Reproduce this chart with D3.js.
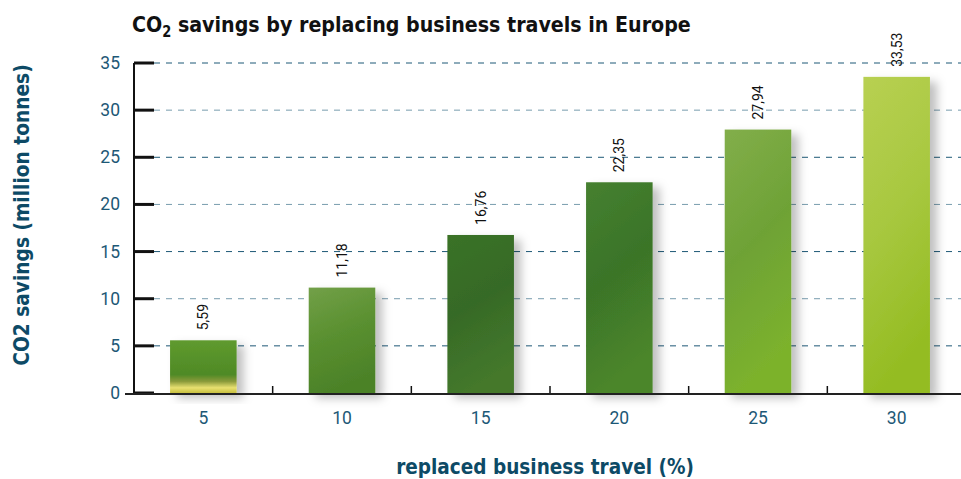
<!DOCTYPE html>
<html lang="en">
<head>
<meta charset="UTF-8">
<title>CO2 savings by replacing business travels in Europe</title>
<script src="https://d3js.org/d3.v7.min.js"></script>
<style>
    body { margin: 0; padding: 0; background: #fff; }
    svg { display: block; }
    .title { font-family: "DejaVu Sans Condensed", "DejaVu Sans", sans-serif; font-weight: bold; font-size: 22px; fill: #111; }
    .axis-title { font-family: "DejaVu Sans Condensed", "DejaVu Sans", sans-serif; font-weight: bold; font-size: 22px; fill: #0d4a66; }
    .tick-label { font-family: Roboto, "Liberation Sans", sans-serif; font-size: 17.5px; fill: #1d5876; }
    .value-label { font-family: Roboto, "Liberation Sans", sans-serif; font-size: 14px; fill: #111; }
</style>
</head>
<body>
<svg width="961" height="479"></svg>
<script>
    // data
    const categories = ["5", "10", "15", "20", "25", "30"];
    const savings = [5.59, 11.18, 16.76, 22.35, 27.94, 33.53];
    const valueLabels = ["5,59", "11,18", "16,76", "22,35", "27,94", "33,53"];
    const yTicks = [0, 5, 10, 15, 20, 25, 30, 35];

    // bar fills (top, middle, bottom)
    const palette = [
        ["#5f9a2e", "#4f8a26", "#e8e070"],
        ["#72a048", "#5a9030", "#4c8228"],
        ["#3a7228", "#366a26", "#44782c"],
        ["#468030", "#3a7428", "#4c862a"],
        ["#82ae4a", "#6ea236", "#7cb22c"],
        ["#b8d052", "#a8c840", "#94bc22"]
    ];

    const svg = d3.select("svg");
    const plotLeft = 134, plotRight = 966, plotTop = 63, plotBottom = 393;

    const x = d3.scaleBand().domain(categories).range([plotLeft, plotRight]).padding(0);
    const y = d3.scaleLinear().domain([0, 35]).range([plotBottom, plotTop]);
    const barW = x.bandwidth() * 0.48;

    const defs = svg.append("defs");
    const shadow = defs.append("filter").attr("id", "shadow")
        .attr("x", "-30%").attr("y", "-10%").attr("width", "170%").attr("height", "130%");
    shadow.append("feDropShadow").attr("dx", 7).attr("dy", 5)
        .attr("stdDeviation", 5).attr("flood-color", "#000").attr("flood-opacity", 0.25);

    palette.forEach((c, i) => {
        const g = defs.append("linearGradient").attr("id", "grad" + i)
            .attr("x1", 0).attr("y1", 0).attr("x2", i === 0 ? 0 : 0.25).attr("y2", 1);
        if (i === 0) {
            g.append("stop").attr("offset", "0%").attr("stop-color", c[0]);
            g.append("stop").attr("offset", "65%").attr("stop-color", c[1]);
            g.append("stop").attr("offset", "78%").attr("stop-color", "#8a9a3a");
            g.append("stop").attr("offset", "90%").attr("stop-color", c[2]);
            g.append("stop").attr("offset", "100%").attr("stop-color", "#c8c040");
        } else {
            g.append("stop").attr("offset", "0%").attr("stop-color", c[0]);
            g.append("stop").attr("offset", "50%").attr("stop-color", c[1]);
            g.append("stop").attr("offset", "100%").attr("stop-color", c[2]);
        }
    });

    // title
    const title = svg.append("text").attr("class", "title")
        .attr("transform", "translate(132,32) scale(0.964,1)");
    title.append("tspan").text("CO");
    title.append("tspan").attr("font-size", "15px").attr("dy", 5).text("2");
    title.append("tspan").attr("dy", -5).text(" savings by replacing business travels in Europe");

    // grid lines
    svg.append("g").selectAll("line")
        .data(yTicks.filter(d => d > 0))
        .join("line")
        .attr("x1", plotLeft + 20).attr("x2", 961)
        .attr("y1", d => y(d)).attr("y2", d => y(d))
        .attr("stroke", "#1d5876")
        .attr("stroke-opacity", (d, i) => i % 2 === 0 ? 1 : 0.6)
        .attr("stroke-width", 1)
        .attr("stroke-dasharray", "6,6");

    // bars
    svg.append("g").selectAll("rect")
        .data(savings)
        .join("rect")
        .attr("x", (d, i) => x(categories[i]) + (x.bandwidth() - barW) / 2)
        .attr("y", d => y(d))
        .attr("width", barW)
        .attr("height", d => plotBottom - y(d))
        .attr("fill", (d, i) => `url(#grad${i})`)
        .attr("filter", "url(#shadow)");

    // value labels
    svg.append("g").selectAll("text")
        .data(savings)
        .join("text")
        .attr("class", "value-label")
        .attr("transform", (d, i) => `translate(${x(categories[i]) + x.bandwidth() / 2 + 5},${y(d) - 10}) rotate(-90)`)
        .text((d, i) => valueLabels[i]);

    // y axis
    svg.append("line")
        .attr("x1", plotLeft).attr("x2", plotLeft)
        .attr("y1", y(35)).attr("y2", plotBottom)
        .attr("stroke", "#111").attr("stroke-width", 2);

    svg.append("g").selectAll("line")
        .data(yTicks)
        .join("line")
        .attr("x1", plotLeft).attr("x2", plotLeft + 20)
        .attr("y1", d => y(d)).attr("y2", d => y(d))
        .attr("stroke", "#111").attr("stroke-width", 3);

    svg.append("g").selectAll("text")
        .data(yTicks)
        .join("text")
        .attr("class", "tick-label")
        .attr("x", 120).attr("y", d => y(d) + 6)
        .attr("text-anchor", "end")
        .text(d => d);

    // x axis
    svg.append("line")
        .attr("x1", 125).attr("x2", 961)
        .attr("y1", plotBottom + 1).attr("y2", plotBottom + 1)
        .attr("stroke", "#222").attr("stroke-width", 2);

    svg.append("g").selectAll("line")
        .data(categories.slice(1))
        .join("line")
        .attr("x1", d => x(d)).attr("x2", d => x(d))
        .attr("y1", plotBottom).attr("y2", plotBottom - 7)
        .attr("stroke", "#111").attr("stroke-width", 1.5);

    svg.append("g").selectAll("text")
        .data(categories)
        .join("text")
        .attr("class", "tick-label")
        .attr("x", d => x(d) + x.bandwidth() / 2)
        .attr("y", 424)
        .attr("text-anchor", "middle")
        .text(d => d);

    // axis titles
    svg.append("text")
        .attr("class", "axis-title")
        .attr("transform", "translate(545,474) scale(0.934,1)")
        .attr("text-anchor", "middle")
        .text("replaced business travel (%)");

    svg.append("text")
        .attr("class", "axis-title")
        .attr("transform", "translate(29,215) rotate(-90) scale(0.94,1)")
        .attr("text-anchor", "middle")
        .text("CO2 savings (million tonnes)");
</script>
</body>
</html>
